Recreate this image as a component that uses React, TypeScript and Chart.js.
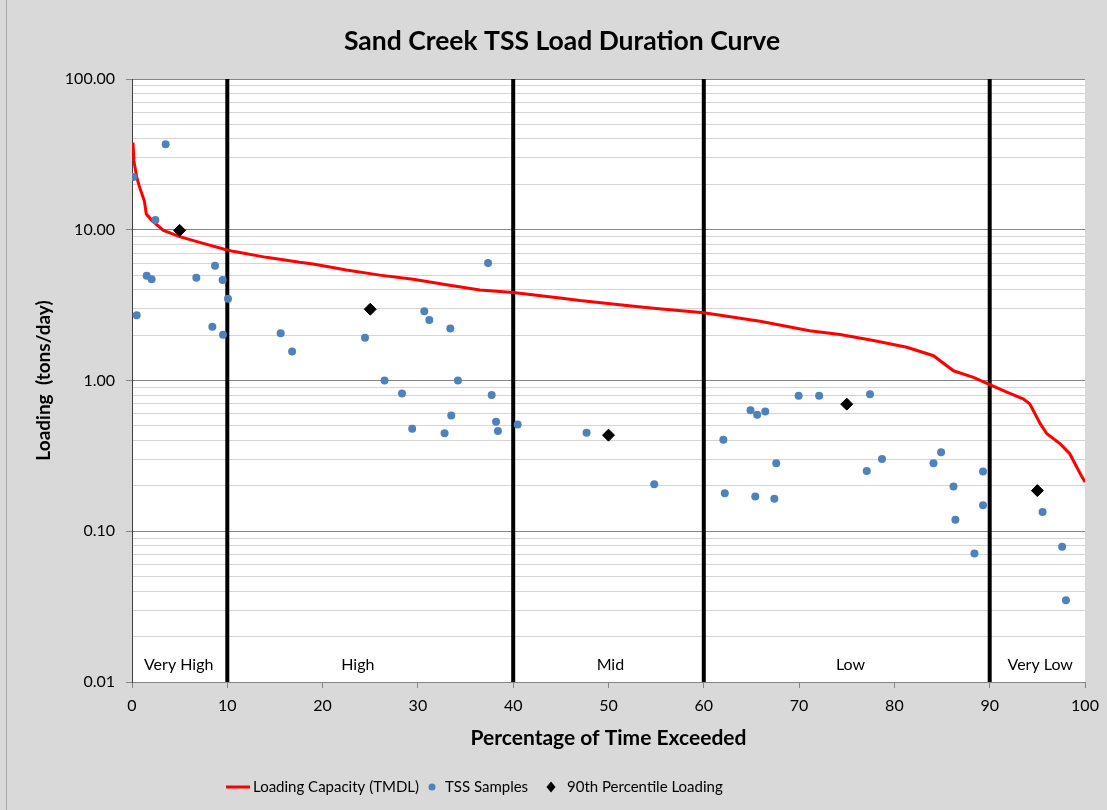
import React, { useEffect, useRef } from "react";
import { Chart, registerables } from "chart.js";

Chart.register(...registerables);

const chartTitle = "Sand Creek TSS Load Duration Curve";
const xAxisTitle = "Percentage of Time Exceeded";
const yAxisTitle = "Loading  (tons/day)";

// Loading Capacity (TMDL) curve
const loadX = [0.1, 0.2, 0.5, 0.8, 1.3, 1.5, 2.1, 3.3, 5.0, 7.1, 9.6, 10.6, 14.1, 17.6, 19.0, 22.5, 26.0, 29.5, 33.0, 36.5, 40.0, 44.9, 47.0, 51.9, 55.0, 60.0, 65.9, 71.1, 74.3, 77.8, 81.3, 84.1, 86.2, 88.3, 90.0, 91.8, 93.5, 94.2, 95.3, 96.0, 97.4, 98.4, 99.5, 100];
const loadY = [37.8, 28.6, 22.2, 19.1, 15.5, 12.7, 11.5, 9.9, 9.0, 8.24, 7.45, 7.19, 6.56, 6.08, 5.93, 5.41, 5.0, 4.69, 4.32, 3.98, 3.83, 3.53, 3.39, 3.14, 3.0, 2.81, 2.47, 2.14, 2.02, 1.84, 1.66, 1.46, 1.16, 1.05, 0.94, 0.837, 0.756, 0.70, 0.517, 0.443, 0.38, 0.327, 0.241, 0.212];

// TSS samples
const tssX = [0.14, 3.53, 0.49, 2.45, 1.54, 2.06, 6.75, 8.71, 9.51, 10.07, 8.43, 9.55, 15.6, 16.8, 37.36, 30.67, 31.2, 33.4, 24.45, 26.5, 34.2, 28.33, 37.74, 33.5, 38.2, 40.47, 29.4, 32.8, 38.4, 47.7, 54.8, 62.05, 62.2, 64.9, 65.6, 66.45, 67.6, 65.4, 67.4, 69.95, 72.1, 77.44, 77.1, 78.7, 84.1, 84.9, 86.2, 86.4, 89.3, 89.3, 88.4, 95.55, 97.6, 98.0];
const tssY = [22.4, 36.9, 2.71, 11.6, 4.96, 4.69, 4.81, 5.77, 4.64, 3.48, 2.27, 2.01, 2.06, 1.56, 6.02, 2.88, 2.52, 2.21, 1.92, 1.0, 1.0, 0.82, 0.80, 0.586, 0.532, 0.511, 0.479, 0.446, 0.462, 0.45, 0.205, 0.405, 0.179, 0.636, 0.593, 0.623, 0.283, 0.170, 0.164, 0.792, 0.792, 0.81, 0.251, 0.301, 0.283, 0.334, 0.198, 0.119, 0.249, 0.149, 0.0711, 0.134, 0.079, 0.0348];

// 90th percentile loading
const pctX = [5, 25, 50, 75, 95];
const pctY = [9.9, 2.97, 0.434, 0.697, 0.186];

// Flow zone boundaries and labels
const zoneBounds = [10, 40, 60, 90];
const zoneLabels = ["Very High", "High", "Mid", "Low", "Very Low"];
const zoneLabelX = [4.9, 23.7, 50.2, 75.4, 95.3];
const zoneLabelY = 0.0129;

// Axis ticks
const yMajorTicks = [0.01, 0.1, 1, 10, 100];
const yTickValues: number[] = [];
for (let d = 0; d < 4; d++) {
  for (let m = 1; m < 10; m++) yTickValues.push(m * yMajorTicks[d]);
}
yTickValues.push(100);
const xMin = 0;
const xMax = 100;
const xStep = 10;

const seriesLabels = ["Loading Capacity (TMDL)", "TSS Samples", "90th Percentile Loading"];

const FONT = "Lato";

const isMajor = (v: number) => yMajorTicks.some((m) => Math.abs(v - m) / m < 1e-6);

export default function App() {
  const ref = useRef<HTMLCanvasElement | null>(null);

  useEffect(() => {
    document.body.style.margin = "0";
    document.body.style.overflow = "hidden";
    const canvas = ref.current;
    if (!canvas) return;

    const bgPlugin = {
      id: "bg",
      beforeDraw(chart: any) {
        const { ctx, chartArea } = chart;
        ctx.save();
        ctx.fillStyle = "#d9d9d9";
        ctx.fillRect(0, 0, chart.width, chart.height);
        ctx.fillStyle = "#ffffff";
        ctx.fillRect(chartArea.left, chartArea.top, chartArea.right - chartArea.left, chartArea.bottom - chartArea.top);
        ctx.strokeStyle = "#a6a6a6";
        ctx.lineWidth = 1;
        ctx.beginPath();
        ctx.moveTo(6.5, 0);
        ctx.lineTo(6.5, chart.height);
        ctx.stroke();
        ctx.restore();
      },
    };

    const titlePlugin = {
      id: "customTitle",
      afterDraw(chart: any) {
        const { ctx } = chart;
        ctx.save();
        ctx.font = `bold 26.5px ${FONT}`;
        ctx.fillStyle = "#000000";
        ctx.textAlign = "center";
        ctx.textBaseline = "middle";
        ctx.fillText(chartTitle, 562, 41);
        ctx.restore();
      },
    };

    const zonePlugin = {
      id: "zones",
      afterDatasetsDraw(chart: any) {
        const { ctx, scales } = chart;
        ctx.save();
        ctx.fillStyle = "#000000";
        ctx.font = `16px ${FONT}`;
        ctx.textAlign = "center";
        ctx.textBaseline = "middle";
        zoneLabels.forEach((t, i) => {
          ctx.fillText(t, scales.x.getPixelForValue(zoneLabelX[i]), scales.y.getPixelForValue(zoneLabelY));
        });
        ctx.restore();
      },
    };

    const legendPlugin = {
      id: "customLegend",
      afterDraw(chart: any) {
        const { ctx } = chart;
        const y = 787;
        ctx.save();
        ctx.font = `15px ${FONT}`;
        ctx.fillStyle = "#000000";
        ctx.textBaseline = "middle";
        ctx.textAlign = "left";
        ctx.strokeStyle = "#ff0000";
        ctx.lineWidth = 3;
        ctx.beginPath();
        ctx.moveTo(226, y);
        ctx.lineTo(250, y);
        ctx.stroke();
        ctx.fillText(seriesLabels[0], 253, y);
        ctx.fillStyle = "#4f81bd";
        ctx.beginPath();
        ctx.arc(432, y, 3.5, 0, Math.PI * 2);
        ctx.fill();
        ctx.fillStyle = "#000000";
        ctx.fillText(seriesLabels[1], 445, y);
        ctx.beginPath();
        ctx.moveTo(551, y - 5.5);
        ctx.lineTo(555.5, y);
        ctx.lineTo(551, y + 5.5);
        ctx.lineTo(546.5, y);
        ctx.closePath();
        ctx.fill();
        ctx.fillText(seriesLabels[2], 567, y);
        ctx.restore();
      },
    };

    const zoneDatasets = zoneBounds.map((b) => ({
      type: "line" as const,
      label: `zone-${b}`,
      data: [
        { x: b, y: yMajorTicks[0] },
        { x: b, y: yMajorTicks[yMajorTicks.length - 1] },
      ],
      borderColor: "#000000",
      borderWidth: 4,
      pointRadius: 0,
      order: 3,
    }));

    const chart = new Chart(canvas, {
      type: "scatter",
      data: {
        datasets: [
          {
            type: "scatter",
            label: seriesLabels[2],
            data: pctX.map((x, i) => ({ x, y: pctY[i] })),
            backgroundColor: "#000000",
            borderColor: "#000000",
            pointStyle: "rectRot",
            pointRadius: 6,
            order: 0,
          },
          {
            type: "scatter",
            label: seriesLabels[1],
            data: tssX.map((x, i) => ({ x, y: tssY[i] })),
            backgroundColor: "#4f81bd",
            borderColor: "#4f81bd",
            pointStyle: "circle",
            pointRadius: 4,
            borderWidth: 0,
            order: 1,
          },
          {
            type: "line",
            label: seriesLabels[0],
            data: loadX.map((x, i) => ({ x, y: loadY[i] })),
            borderColor: "#ff0000",
            borderWidth: 3,
            pointRadius: 0,
            tension: 0,
            fill: false,
            order: 2,
          },
          ...zoneDatasets,
        ] as any,
      },
      options: {
        responsive: false,
        animation: false,
        devicePixelRatio: 1,
        layout: { padding: { top: 79, right: 22, bottom: 0, left: 0 } },
        font: { family: FONT },
        plugins: {
          legend: { display: false },
          tooltip: { enabled: false },
          title: { display: false },
        },
        scales: {
          x: {
            type: "linear",
            min: xMin,
            max: xMax,
            ticks: {
              stepSize: xStep,
              color: "#000000",
              font: { family: FONT, size: 16 },
              padding: 8,
              maxRotation: 0,
            },
            grid: {
              display: true,
              drawOnChartArea: false,
              drawTicks: true,
              tickLength: 6,
              tickColor: "#868686",
            },
            border: { display: true, color: "#868686", width: 1 },
            title: {
              display: true,
              text: xAxisTitle,
              color: "#000000",
              font: { family: FONT, size: 21, weight: "bold", lineHeight: 1.2 },
              padding: { top: 0, bottom: 59.4 },
            },
            afterFit(scale: any) {
              scale.height = 128;
            },
          },
          y: {
            type: "logarithmic",
            min: yMajorTicks[0],
            max: yMajorTicks[yMajorTicks.length - 1],
            afterBuildTicks(scale: any) {
              scale.ticks = yTickValues.map((v) => ({ value: v, major: isMajor(v) }));
            },
            ticks: {
              autoSkip: false,
              color: "#000000",
              font: { family: FONT, size: 16 },
              padding: 11,
              callback: (v: any) => (isMajor(Number(v)) ? Number(v).toFixed(2) : ""),
            },
            grid: {
              display: true,
              drawTicks: true,
              tickLength: 6,
              color: (c: any) => (c.tick && isMajor(c.tick.value) ? "#868686" : "#d4d4d4"),
              tickColor: (c: any) => (c.tick && isMajor(c.tick.value) ? "#868686" : "rgba(0,0,0,0)"),
              lineWidth: 1,
            },
            border: { display: true, color: "#404040", width: 1 },
            title: {
              display: true,
              text: yAxisTitle,
              color: "#000000",
              font: { family: FONT, size: 19, weight: "bold", lineHeight: 1.2 },
              padding: { top: 32, bottom: 0 },
            },
            afterFit(scale: any) {
              scale.width = 132;
            },
          },
        },
      } as any,
      plugins: [bgPlugin, titlePlugin, zonePlugin, legendPlugin],
    });

    return () => {
      chart.destroy();
    };
  }, []);

  return (
    <div style={{ width: 1107, height: 810 }}>
      <canvas ref={ref} width={1107} height={810} style={{ display: "block", width: 1107, height: 810 }} />
    </div>
  );
}
